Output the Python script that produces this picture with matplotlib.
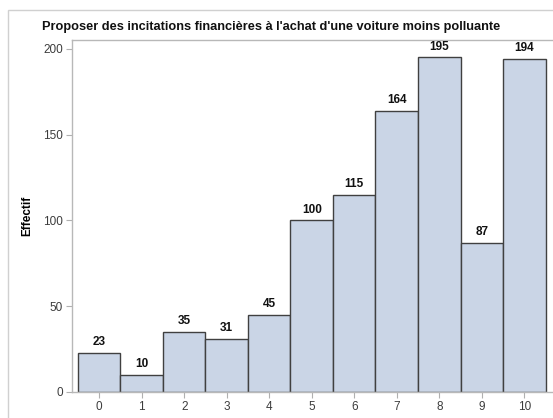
import matplotlib.pyplot as plt
from matplotlib.patches import Rectangle

# données
categories = ["0", "1", "2", "3", "4", "5", "6", "7", "8", "9", "10"]
effectifs = [23, 10, 35, 31, 45, 100, 115, 164, 195, 87, 194]
yticks = [0, 50, 100, 150, 200]

plt.rcParams['font.family'] = ['Liberation Sans', 'DejaVu Sans']

fig = plt.figure(figsize=(5.53, 4.18), dpi=100)
# cadre extérieur gris clair
fig.patches.append(Rectangle((8 / 553, -0.1), 1.1, 1.1 - 10 / 418, transform=fig.transFigure,
                             fill=False, edgecolor='#d0d0d0', linewidth=1.0))

ax = fig.add_axes([72 / 553, 26 / 418, 484 / 553, 352 / 418])
x = list(range(len(categories)))
ax.bar(x, effectifs, width=1.0, color='#cad5e6', edgecolor='#404040', linewidth=1.0)

for xi, v in zip(x, effectifs):
    ax.text(xi, v + 2.8, str(v), ha='center', va='bottom', fontsize=8.5, fontweight='bold', color='#111111')

ax.set_xlim(-0.641, 10.747)
ax.set_ylim(0, 205.2)
ax.set_xticks(x)
ax.set_xticklabels(categories)
ax.set_yticks(yticks)

for s in ax.spines.values():
    s.set_color('#b8b8b8')
    s.set_linewidth(1.0)
ax.tick_params(axis='both', length=4, width=0.8, color='#b0b0b0', labelcolor='#3c3c3c', labelsize=8.5, pad=2.5)

ax.set_ylabel("Effectif", fontsize=8.5, fontweight='bold', labelpad=7)
fig.text(271 / 553, 1 - 27 / 418, "Proposer des incitations financières à l'achat d'une voiture moins polluante",
         ha='center', va='center', fontsize=9.2, fontweight='bold', color='#111111')

fig.savefig("out.png", dpi=100)
